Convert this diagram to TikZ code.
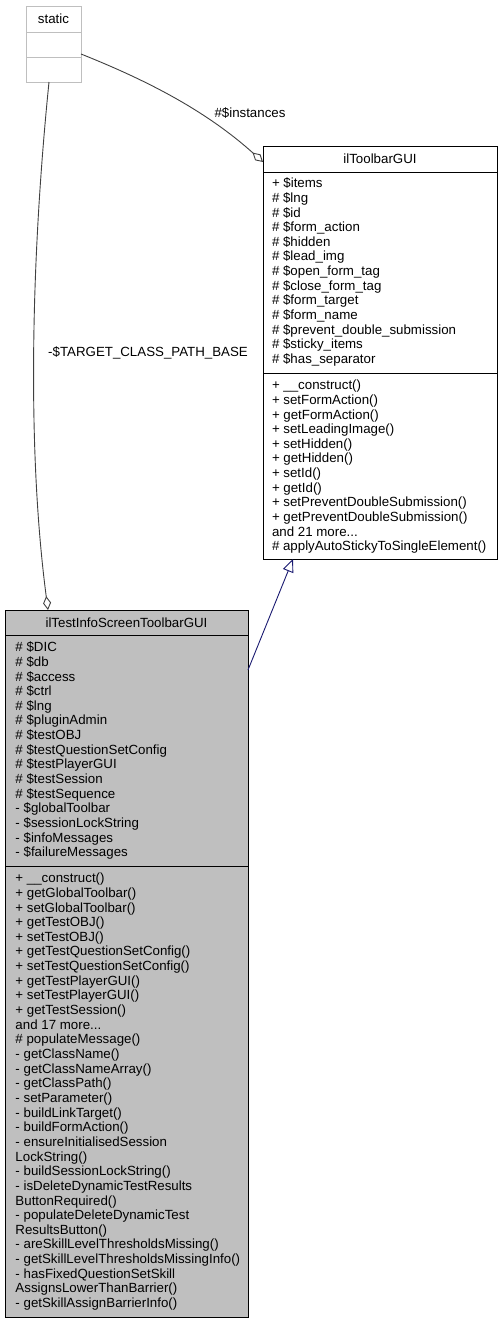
\documentclass[tikz,border=0pt]{standalone}
\usepackage{fontspec}
\setmainfont{Liberation Sans}
\usetikzlibrary{arrows.meta}
\definecolor{boxgray}{HTML}{BFBFBF}
\definecolor{edgegray}{HTML}{404040}
\definecolor{inhblue}{HTML}{191970}
\newcommand\mythreedots{...}
\begin{document}
\begin{tikzpicture}[x=1pt,y=-1pt,
  every node/.style={inner sep=0pt,outer sep=0pt},
  txt/.style={font=\fontsize{13.3}{14.65}\selectfont,text=black},
  mem/.style={txt,anchor=base west},
  ttl/.style={txt,anchor=base},
  classbox/.style={draw=black,line width=1pt,anchor=north west},
  sep/.style={draw=black,line width=1pt},
  aggr/.style={draw=edgegray,line width=0.9pt,-{Diamond[open,length=14pt,width=8pt,line width=0.9pt]}},
  inh/.style={draw=inhblue,line width=0.9pt,-{Triangle[open,length=13pt,width=11pt,line width=0.9pt]}}
]
\useasboundingbox (0,0) rectangle (503,1323);

% static box
\node[classbox,draw=boxgray,fill=white,minimum width=55pt,minimum height=76pt] (static) at (26,6) {};
\draw[draw=boxgray,line width=1pt] ([yshift=-26pt]static.north west) -- ([yshift=-26pt]static.north east);
\draw[draw=boxgray,line width=1pt] ([yshift=-51pt]static.north west) -- ([yshift=-51pt]static.north east);
\node[ttl] (statict) at (53.5,23.7) {static};

% ilToolbarGUI
\node[classbox,fill=white,minimum width=234pt,minimum height=413pt] (tb) at (263,146) {};
\draw[sep] ([yshift=-26pt]tb.north west) -- ([yshift=-26pt]tb.north east);
\draw[sep] ([yshift=-227pt]tb.north west) -- ([yshift=-227pt]tb.north east);
\node[ttl] (tbt) at (380,163.7) {ilToolbarGUI};
\foreach \t [count=\i] in {+ \$items,\# \$lng,\# \$id,\# \$form\_action,\# \$hidden,\# \$lead\_img,\# \$open\_form\_tag,\# \$close\_form\_tag,\# \$form\_target,\# \$form\_name,\# \$prevent\_double\_submission,\# \$sticky\_items,\# \$has\_separator}
  {\node[mem] (tba\i) at (272,{187.7+(\i-1)*14.65}) {\t};}
\foreach \t [count=\i] in {+ \_\_construct(),+ setFormAction(),+ getFormAction(),+ setLeadingImage(),+ setHidden(),+ getHidden(),+ setId(),+ getId(),+ setPreventDoubleSubmission(),+ getPreventDoubleSubmission(),and 21 more\mythreedots,\# applyAutoStickyToSingleElement()}
  {\node[mem] (tbm\i) at (272,{389.7+(\i-1)*14.65}) {\t};}

% ilTestInfoScreenToolbarGUI
\node[classbox,fill=boxgray,minimum width=243pt,minimum height=707pt] (test) at (5,610) {};
\draw[sep] ([yshift=-25pt]test.north west) -- ([yshift=-25pt]test.north east);
\draw[sep] ([yshift=-256pt]test.north west) -- ([yshift=-256pt]test.north east);
\node[ttl] (testt) at (126.5,627.2) {ilTestInfoScreenToolbarGUI};
\foreach \t [count=\i] in {\# \$DIC,\# \$db,\# \$access,\# \$ctrl,\# \$lng,\# \$pluginAdmin,\# \$testOBJ,\# \$testQuestionSetConfig,\# \$testPlayerGUI,\# \$testSession,\# \$testSequence,- \$globalToolbar,- \$sessionLockString,- \$infoMessages,- \$failureMessages}
  {\node[mem] (testa\i) at (15.5,{651.7+(\i-1)*14.65}) {\t};}
\foreach \t [count=\i] in {+ \_\_construct(),+ getGlobalToolbar(),+ setGlobalToolbar(),+ getTestOBJ(),+ setTestOBJ(),+ getTestQuestionSetConfig(),+ setTestQuestionSetConfig(),+ getTestPlayerGUI(),+ setTestPlayerGUI(),+ getTestSession(),and 17 more\mythreedots,\# populateMessage(),- getClassName(),- getClassNameArray(),- getClassPath(),- setParameter(),- buildLinkTarget(),- buildFormAction(),- ensureInitialisedSession,LockString(),- buildSessionLockString(),- isDeleteDynamicTestResults,ButtonRequired(),- populateDeleteDynamicTest,ResultsButton(),- areSkillLevelThresholdsMissing(),- getSkillLevelThresholdsMissingInfo(),- hasFixedQuestionSetSkill,AssignsLowerThanBarrier(),- getSkillAssignBarrierInfo()}
  {\node[mem] (testm\i) at (15.5,{882.7+(\i-1)*14.65}) {\t};}

% connectors
\draw[aggr] ([yshift=-10pt]static.east) .. controls (141,78) and (203,108) .. ([yshift=-16pt]tb.north west);
\node[ttl] (instl) at (250,117.7) {\#\$instances};

\draw[aggr] ([xshift=-4.5pt]static.south) .. controls (31,260) and (27,450) .. ([xshift=43pt]test.north west);
\node[ttl] (tcpl) at (148,356.7) {-\$TARGET\_CLASS\_PATH\_BASE};

\draw[inh] ([yshift=-60pt]test.north east) -- ([xshift=30pt]tb.south west);
\end{tikzpicture}
\end{document}
